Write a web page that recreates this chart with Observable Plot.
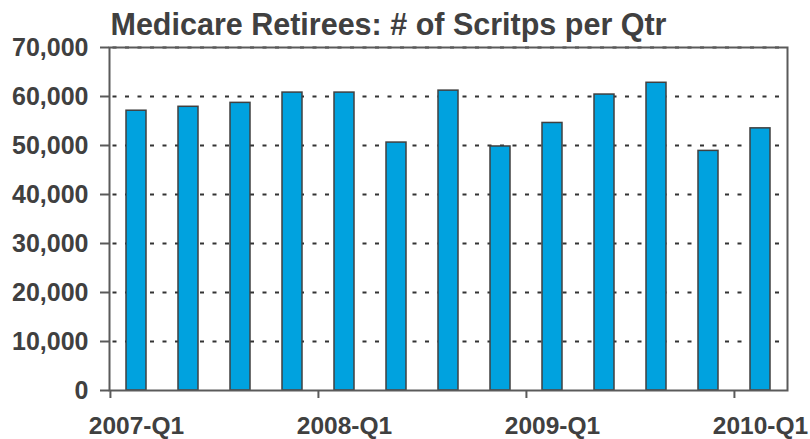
<!DOCTYPE html>
<html>
<head>
<meta charset="utf-8">
<script src="https://cdn.jsdelivr.net/npm/d3@7"></script>
<script src="https://cdn.jsdelivr.net/npm/@observablehq/plot@0.6"></script>
<style>
  html, body { margin: 0; padding: 0; background: #ffffff; }
  #chart { width: 810px; height: 439px; }
</style>
</head>
<body>
<div id="chart"></div>
<script>
const titleText = "Medicare Retirees: # of Scritps per Qtr";
const quarters = ["2007-Q1","2007-Q2","2007-Q3","2007-Q4","2008-Q1","2008-Q2","2008-Q3","2008-Q4","2009-Q1","2009-Q2","2009-Q3","2009-Q4","2010-Q1"];
const scripts = [57100, 57900, 58700, 60800, 60800, 50600, 61200, 49800, 54600, 60400, 62800, 48900, 53500];
const xTickLabels = ["2007-Q1","2008-Q1","2009-Q1","2010-Q1"];
const yTicks = [0, 10000, 20000, 30000, 40000, 50000, 60000, 70000];
const gridTicks = [10000, 20000, 30000, 40000, 50000, 60000, 70000];

const data = quarters.map((q, i) => ({q, v: scripts[i]}));

const W = 810, H = 439;
const mL = 109, mR = 23, mT = 47, mB = 49;
const step = (W - mL - mR) / quarters.length;
const textColor = "#404040";

const chart = Plot.plot({
  width: W,
  height: H,
  marginLeft: mL,
  marginRight: mR,
  marginTop: mT,
  marginBottom: mB,
  style: {fontFamily: "'Liberation Sans', Arial, sans-serif", background: "#ffffff", color: textColor},
  x: {type: "band", domain: quarters, padding: 0, label: null},
  y: {domain: [0, 70000], label: null},
  marks: [
    Plot.gridY(gridTicks, {stroke: "#333333", strokeOpacity: 1, strokeWidth: 2, strokeDasharray: "4,8.5", strokeDashoffset: -3.5}),
    Plot.barY(data, {x: "q", y: "v", fill: "#00A2DF", stroke: "#404040", strokeWidth: 1.5, insetLeft: 16, insetRight: 16}),
    Plot.frame({stroke: "#5a5a5a", strokeWidth: 2}),
    Plot.axisY({ticks: yTicks, tickFormat: d3.format(","), tickSize: 9, tickPadding: 12, fontSize: 25, fontWeight: "bold", fill: textColor, stroke: "#5a5a5a", strokeWidth: 2, label: null}),
    Plot.axisX({ticks: xTickLabels, tickSize: 8, tickFormat: () => "", stroke: "#5a5a5a", strokeWidth: 2, dx: -step / 2, label: null}),
    Plot.axisX({ticks: xTickLabels, tickSize: 0, tickPadding: 26, fontSize: 24.5, fontWeight: "bold", fill: textColor, label: null}),
    Plot.text([titleText], {frameAnchor: "top-left", textAnchor: "start", lineAnchor: "bottom", dx: 1, dy: -13, fontSize: 30.5, fontWeight: "bold", fill: textColor})
  ]
});
document.getElementById("chart").appendChild(chart);
</script>
</body>
</html>
